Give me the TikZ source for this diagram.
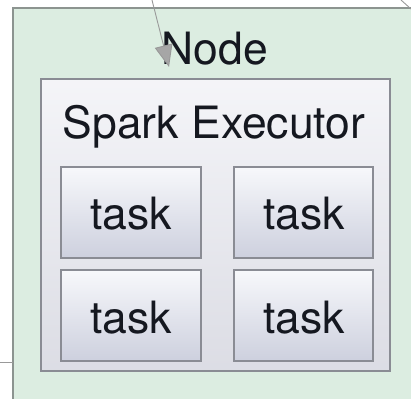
\documentclass[tikz,border=0pt]{standalone}
\usepackage{fontspec}
\setmainfont{TeX Gyre Heros}
\usetikzlibrary{arrows.meta}
\definecolor{outerfill}{HTML}{DCEDE1}
\definecolor{outerline}{HTML}{8C9490}
\definecolor{innerfill}{HTML}{E4E5EE}
\definecolor{boxline}{HTML}{8A8C94}
\definecolor{tasktop}{HTML}{F7F8FB}
\definecolor{taskbot}{HTML}{CDD0DE}
\definecolor{txt}{HTML}{151820}
\tikzset{
  outerbox/.style={draw=outerline, line width=1.6pt, fill=outerfill},
  innerbox/.style={draw=boxline, line width=1.4pt, top color=innerfill!40!white, bottom color=innerfill!90!gray!95},
  taskbox/.style={draw=boxline, line width=1.2pt, top color=tasktop, bottom color=taskbot},
  lbl/.style={font=\fontsize{44.5}{44.5}\selectfont, text=txt, inner sep=0pt, anchor=base},
  wire/.style={draw=gray!80, line width=0.9pt},
}
\begin{document}
\begin{tikzpicture}[x=1pt,y=-1pt]
\useasboundingbox (0,0) rectangle (411,398);
\fill[white] (0,0) rectangle (411,398);
% outer Node box
\path[outerbox] (13,8) rectangle (420,405);
% inner executor box
\path[innerbox] (41,79) rectangle (390,371);
% tasks
\path[taskbox] (61,167) rectangle (201,258);
\path[taskbox] (234,167) rectangle (373,258);
\path[taskbox] (61,270) rectangle (201,361);
\path[taskbox] (234,270) rectangle (373,361);
% labels
\node[lbl] (node) at (215,65) {Node};
\node[lbl] (exec) at (214,138) {Spark Executor};
\node[lbl] (t1) at (131,229) {task};
\node[lbl] (t2) at (304,229) {task};
\node[lbl] (t3) at (131,333) {task};
\node[lbl] (t4) at (304,333) {task};
% connectors
\coordinate (a0) at (152,0);
\coordinate (a1) at (169,67);
\draw[wire, -{Triangle[length=22pt,width=18pt,fill=gray!70,color=gray!80]}] (a0) -- (a1);
\coordinate (b0) at (401,0);
\coordinate (b1) at (411,9);
\draw[wire] (b0) -- (b1);
\coordinate (c0) at (0,362);
\coordinate (c1) at (13,362);
\draw[wire] (c0) -- (c1);
\end{tikzpicture}
\end{document}
